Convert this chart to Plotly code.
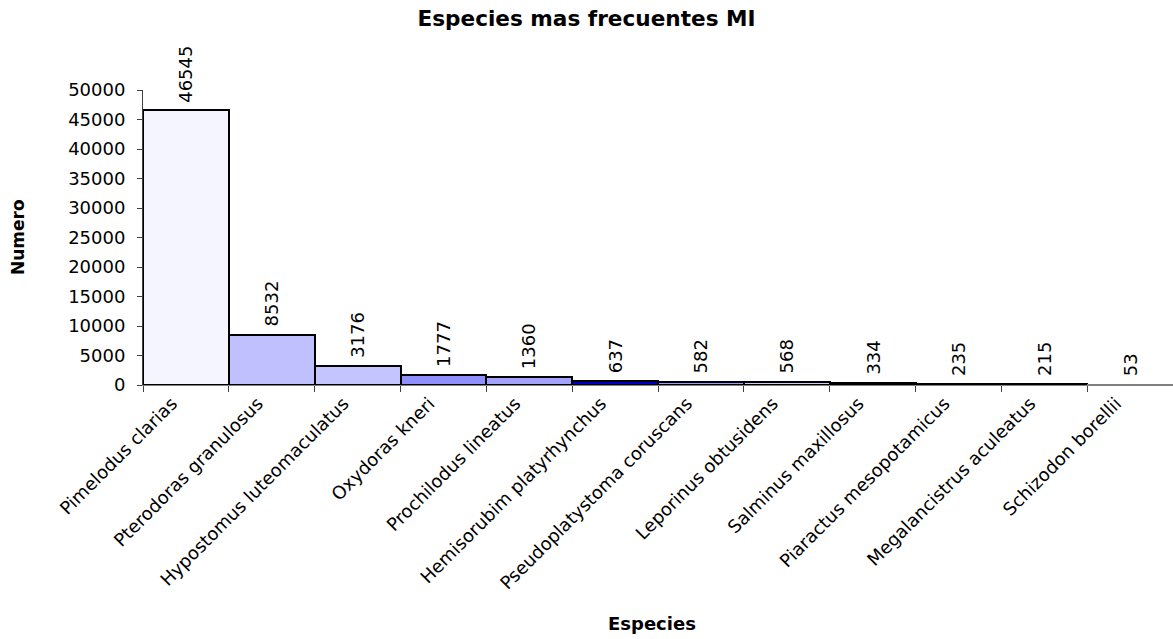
import plotly.graph_objects as go

# Species counts
especies = [
    "Pimelodus clarias", "Pterodoras granulosus", "Hypostomus luteomaculatus",
    "Oxydoras kneri", "Prochilodus lineatus", "Hemisorubim platyrhynchus",
    "Pseudoplatystoma coruscans", "Leporinus obtusidens", "Salminus maxillosus",
    "Piaractus mesopotamicus", "Megalancistrus aculeatus", "Schizodon borellii",
]
numero = [46545, 8532, 3176, 1777, 1360, 637, 582, 568, 334, 235, 215, 53]

colores = [
    "#F5F5FF", "#C0C0FF", "#C4C4FF", "#8F8FFF", "#A3A3FF", "#0000CC",
    "#9999FF", "#CCCCFF", "#000000", "#000000", "#000000", "#FFFFFF",
]
bordes = ["#000000"] * 11 + ["#808080"]

y_ticks = list(range(0, 50001, 5000))

FONT = "DejaVu Sans, Arial, sans-serif"

fig = go.Figure(
    go.Bar(
        x=especies,
        y=numero,
        width=1,
        marker=dict(color=colores, line=dict(color=bordes, width=2)),
        hoverinfo="x+y",
    )
)

# value labels above each bar, rotated
for sp, val in zip(especies, numero):
    fig.add_annotation(
        x=sp, y=val, text=str(val), textangle=-90,
        showarrow=False, xanchor="center", yanchor="bottom", yshift=6,
        font=dict(family=FONT, size=18, color="#000000"),
    )

# axis titles
fig.add_annotation(
    text="<b>Especies</b>", xref="paper", yref="paper",
    x=(652 - 143) / 1030, y=-(623 - 385) / 295,
    xanchor="center", yanchor="middle", showarrow=False,
    font=dict(family=FONT, size=18, color="#000000"),
)
fig.add_annotation(
    text="<b>Numero</b>", xref="paper", yref="paper",
    x=-(143 - 18) / 1030, y=(385 - 237) / 295, textangle=-90,
    xanchor="center", yanchor="middle", showarrow=False,
    font=dict(family=FONT, size=17, color="#000000"),
)

fig.update_layout(
    width=1173, height=639,
    margin=dict(l=143, r=0, t=90, b=254),
    paper_bgcolor="#FFFFFF", plot_bgcolor="#FFFFFF",
    showlegend=False,
    bargap=0,
    font=dict(family=FONT, size=18, color="#000000"),
    title=dict(
        text="<b>Especies mas frecuentes MI</b>",
        x=0.5, xanchor="center", xref="container", y=1 - 18 / 639, yanchor="middle",
        font=dict(family=FONT, size=21.6),
    ),
    xaxis=dict(
        tickangle=-45,
        showline=True, linecolor="#808080", linewidth=1,
        ticks="outside", tickcolor="#404040", ticklen=6, tickson="boundaries",
        ticklabelshift=-14,
        showgrid=False, zeroline=False,
        tickfont=dict(family=FONT, size=18),
    ),
    yaxis=dict(
        range=[0, 50000],
        tickvals=y_ticks, ticktext=[str(v) for v in y_ticks],
        showline=True, linecolor="#404040", linewidth=1,
        ticks="outside", tickcolor="#404040", ticklen=5,
        ticklabelstandoff=8,
        showgrid=False, zeroline=False,
        tickfont=dict(family=FONT, size=18),
    ),
)

fig.write_html("out.html")
